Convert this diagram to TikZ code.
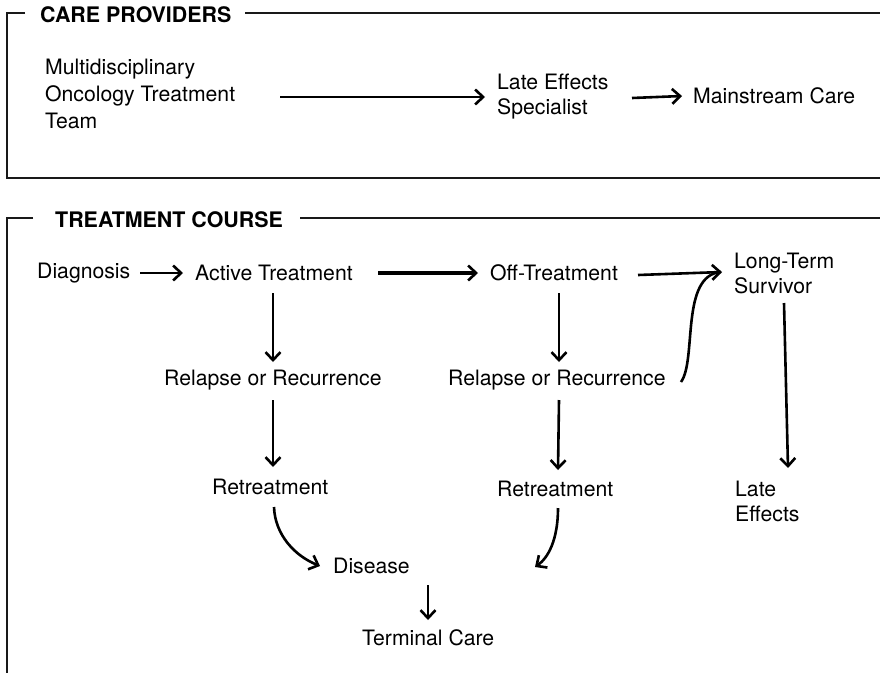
\documentclass[tikz,border=0pt]{standalone}
\usepackage{fontspec}
\setmainfont{TeX Gyre Heros}
\usetikzlibrary{arrows.meta,calc}
\tikzset{
  lbl/.style={anchor=west,inner sep=0pt,align=left,font=\fontsize{21.2}{25}\selectfont},
  lbltall/.style={lbl,font=\fontsize{21.2}{26.7}\selectfont},
  ttl/.style={anchor=west,inner sep=0pt,font=\fontsize{21.4}{25}\selectfont\bfseries},
  frame/.style={line width=2.4pt,color=black!90},
  arr/.style={line width=2.6pt,-{Straight Barb[length=8pt,width=15pt,line width=2.6pt]}},
  thickarr/.style={arr,line width=3.4pt},
  plain/.style={line width=2.6pt}
}
\begin{document}
\begin{tikzpicture}[x=1pt,y=-1pt]
\useasboundingbox (0,0) rectangle (880,673);
% frames
\draw[frame] (25,13) -- (7,13) -- (7,178) -- (880,178);
\draw[frame] (245,13) -- (880,13);
\node[ttl] (cp) at (40,14.5) {CARE PROVIDERS};
\draw[frame] (33,218) -- (7,218) -- (7,673);
\draw[frame] (300,218) -- (880,218);
\node[ttl] (tc) at (55,219.5) {TREATMENT COURSE};
% care providers
\node[lbltall] (mdt) at (45,94) {Multidisciplinary\\Oncology Treatment\\Team};
\node[lbl] (les) at (497,97) {Late Effects\\Specialist};
\node[lbl] (msc) at (693,96) {Mainstream Care};
\draw[arr] ($(mdt.west)+(235,3)$) -- ($(les.west)+(-12,0)$);
\draw[arr] ($(les.west)+(135,1)$) -- ($(msc.west)+(-11,0)$);
% treatment course
\node[lbl] (diag) at (37,273) {Diagnosis};
\node[lbl] (act) at (195,273) {Active Treatment};
\node[lbl] (off) at (490,273) {Off-Treatment};
\node[lbl] (lts) at (734,273) {Long-Term\\Survivor};
\node[lbl] (rr1) at (164,380) {Relapse or Recurrence};
\node[lbl] (rr2) at (448,380) {Relapse or Recurrence};
\node[lbl] (ret1) at (212,487) {Retreatment};
\node[lbl] (ret2) at (497,489) {Retreatment};
\node[lbl] (dis) at (333,566) {Disease};
\node[lbl] (term) at (362,638) {Terminal Care};
\node[lbl] (le) at (735,501) {Late\\Effects};
\coordinate (free) at (535,567);
\draw[arr] ($(diag.west)+(103,0)$) -- ($(act.west)+(-12,0)$);
\draw[thickarr] ($(act.west)+(183,0)$) -- ($(off.west)+(-12,0)$);
\draw[arr] ($(off.west)+(148,2)$) -- ($(lts.west)+(-12,-1)$);
\draw[plain] ($(rr2.west)+(233,2)$) .. controls (697,360) and (680,275) .. ($(lts.west)+(-13,-1)$);
\draw[arr] ($(act.west)+(78,20)$) -- ($(rr1.west)+(109,-18)$);
\draw[arr] ($(rr1.west)+(109,20)$) -- ($(ret1.west)+(61,-20)$);
\draw[arr] ($(ret1.west)+(62,20)$) .. controls (275,535) and (295,556) .. ($(dis.west)+(-13,0)$);
\draw[arr] ($(dis.west)+(95,19)$) -- ($(term.west)+(66,-18)$);
\draw[arr] ($(off.west)+(69,20)$) -- ($(rr2.west)+(111,-18)$);
\draw[arr] ($(rr2.west)+(111,20)$) -- ($(ret2.west)+(61,-19)$);
\draw[arr] ($(ret2.west)+(61,19)$) .. controls (558,540) and (548,558) .. (free);
\draw[arr] ($(lts.west)+(50,30)$) -- ($(le.west)+(53,-33)$);
\end{tikzpicture}
\end{document}
